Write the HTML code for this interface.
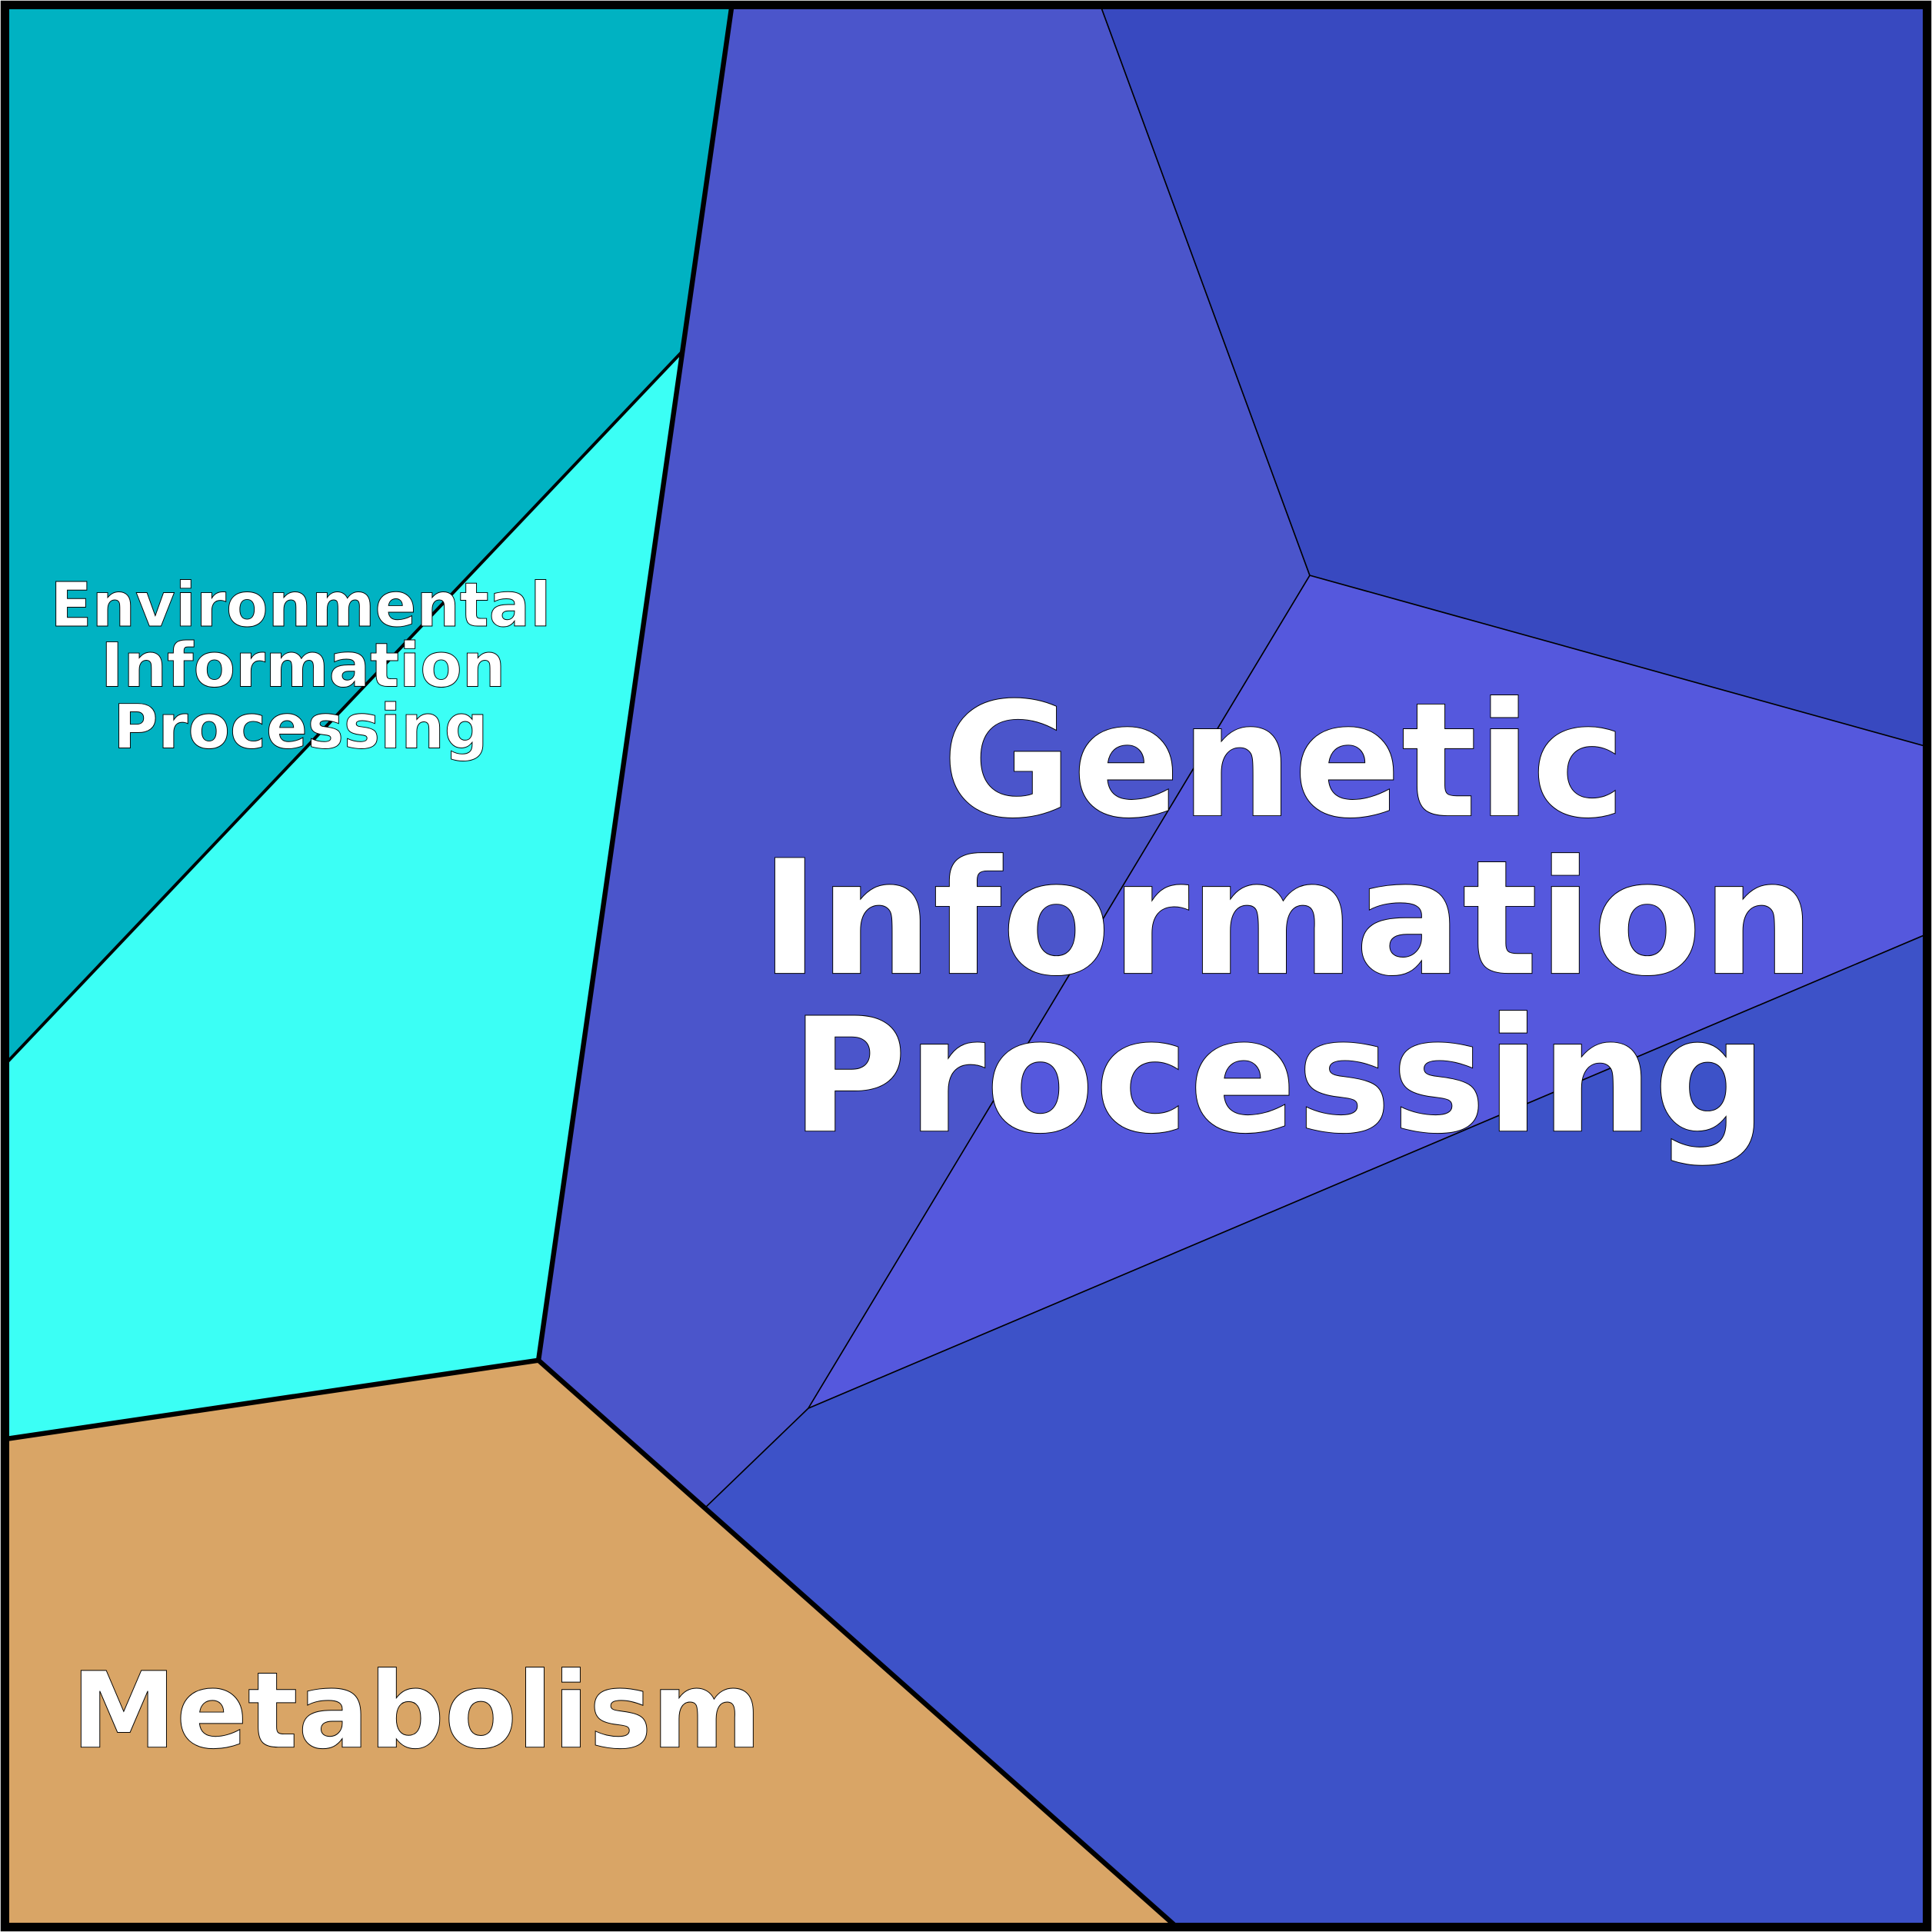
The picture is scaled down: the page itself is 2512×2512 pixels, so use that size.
<!DOCTYPE html>
<html><head><style>html,body{margin:0;padding:0;background:#fff}svg{display:block}</style></head>
<body>
<svg width="2512" height="2512" viewBox="0 0 1568 1568" xmlns="http://www.w3.org/2000/svg">
<g stroke="#000" stroke-width="1">
<polygon points="4,4 594,4 553,286 4,864" fill="#00B2C2"/>
<polygon points="4,864 553,286 437,1104 4,1168" fill="#3BFFF5"/>
<polygon points="4,1168 437,1104 955,1564 4,1564" fill="#D9A566"/>
<polygon points="594,4 893,4 1063,467 656,1143 573,1223 437,1104" fill="#4B55CB"/>
<polygon points="893,4 1564,4 1564,606 1063,467" fill="#3849C0"/>
<polygon points="1063,467 1564,606 1564,758 656,1143" fill="#5558DD"/>
<polygon points="656,1143 1564,758 1564,1564 955,1564 573,1223" fill="#3D52C8"/>
</g>
<polyline points="4,864 553,286" fill="none" stroke="#000" stroke-width="2.5"/>
<polyline points="594,4 437,1104 955,1564" fill="none" stroke="#000" stroke-width="4"/>
<polyline points="4,1168 437,1104" fill="none" stroke="#000" stroke-width="4"/>
<rect x="4" y="4" width="1560" height="1560" fill="none" stroke="#000" stroke-width="7"/>
<g font-family="'DejaVu Sans','Liberation Sans',sans-serif" font-weight="bold" fill="#fff" stroke="#000" stroke-width="0.6" text-anchor="middle">
<text x="244" y="508" font-size="49.5">Environmental</text>
<text x="246" y="557" font-size="49.5">Information</text>
<text x="244" y="607" font-size="49.5">Processing</text>
<text x="1042" y="662" font-size="129">Genetic</text>
<text x="1045" y="790" font-size="129">Information</text>
<text x="1038" y="918" font-size="129">Processing</text>
<text x="338" y="1418" font-size="85.5">Metabolism</text>
</g>
</svg>
</body></html>
